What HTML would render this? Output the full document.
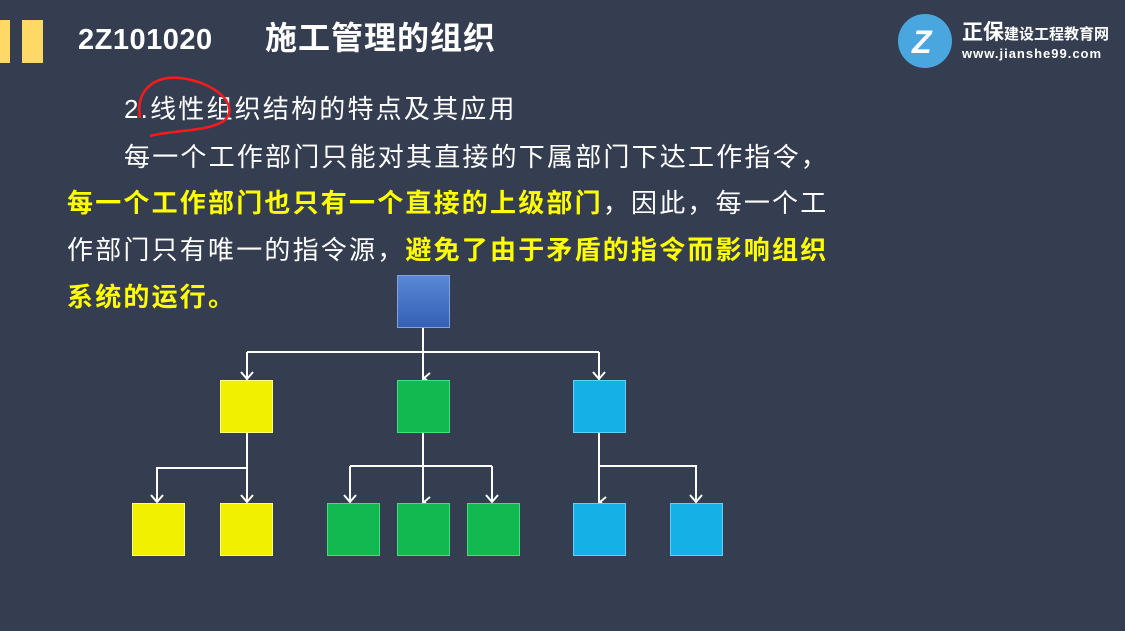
<!DOCTYPE html>
<html><head><meta charset="utf-8"><style>
html,body{margin:0;padding:0}
body{width:1125px;height:631px;background:#353e50;position:relative;overflow:hidden;font-family:"Liberation Sans","Noto Sans CJK SC",sans-serif;color:#fff}
.t{position:absolute;white-space:nowrap;font-size:26px;letter-spacing:2.2px;line-height:30px}
.y{color:#ffff00;font-weight:bold}
.b{position:absolute;width:53px;height:53px;box-sizing:border-box}
</style></head><body>
<div style="position:absolute;left:0;top:20px;width:10px;height:43px;background:#ffd966"></div>
<div style="position:absolute;left:22px;top:20px;width:21px;height:43px;background:#ffd966"></div>
<div class="t" style="left:78px;top:25px;font-size:29px;font-weight:bold;letter-spacing:0.5px">2Z101020</div>
<div class="t" style="left:265px;top:23px;font-size:32px;font-weight:bold;letter-spacing:1px">施工管理的组织</div>
<!-- logo -->
<div style="position:absolute;left:898px;top:14px;width:54px;height:54px;border-radius:50%;background:#4aa6de"></div>
<div style="position:absolute;left:912px;top:28px;font-size:32px;font-weight:bold;color:#fff;font-style:italic;line-height:28px">Z</div>
<div style="position:absolute;left:962px;top:16px;font-size:21px;font-weight:bold;color:#fff;white-space:nowrap">正保<span style="font-size:15px">建设工程教育网</span></div>
<div style="position:absolute;left:962px;top:46px;font-size:13px;font-weight:bold;color:#fff;white-space:nowrap;letter-spacing:1px">www.jianshe99.com</div>

<div class="t" style="left:124px;top:94px">2.线性组织结构的特点及其应用</div>
<svg style="position:absolute;left:130px;top:70px" width="110" height="70"><path d="M10 48 C5 20,25 5,50 8 C85 12,110 35,95 50 C80 62,40 60,20 66" fill="none" stroke="#ff1a1a" stroke-width="2.5"/></svg>
<div class="t" style="left:124px;top:142px">每一个工作部门只能对其直接的下属部门下达工作指令，</div>
<div class="t" style="left:67px;top:188px"><span class="y">每一个工作部门也只有一个直接的上级部门</span>，因此，每一个工</div>
<div class="t" style="left:67px;top:235px">作部门只有唯一的指令源，<span class="y">避免了由于矛盾的指令而影响组织</span></div>
<div class="t y" style="left:67px;top:282px">系统的运行。</div>

<svg style="position:absolute;left:0;top:0" width="1125" height="631">
<g stroke="#fff" stroke-width="2" fill="none">
<path d="M423 328V380M247 352H599M247 352V379M599 352V379"/>
<path d="M247 433V468H157V502M247 468V502"/>
<path d="M423 433V503M350 466H492M350 466V502M492 466V502"/>
<path d="M599 433V503M599 466H696V502"/>
<path d="M241 372L247 379L253 372M593 372L599 379L605 372M151 495L157 502L163 495M241 495L247 502L253 495M344 495L350 502L356 495M486 495L492 502L498 495M690 495L696 502L702 495M430 373L424 378L430 383M430 497L424 502L430 507M606 497L600 502L606 507"/>
</g>
</svg>
<div class="b" style="left:397px;top:275px;background:linear-gradient(#5a87d6,#3560b5);border:1px solid #7fa2e0"></div>
<div class="b" style="left:220px;top:380px;background:#f0f000;border:1px solid #ffff80"></div>
<div class="b" style="left:397px;top:380px;background:#12b850;border:1px solid #40e080"></div>
<div class="b" style="left:573px;top:380px;background:#14b0e6;border:1px solid #60d0ff"></div>
<div class="b" style="left:132px;top:503px;background:#f0f000;border:1px solid #ffff80"></div>
<div class="b" style="left:220px;top:503px;background:#f0f000;border:1px solid #ffff80"></div>
<div class="b" style="left:327px;top:503px;background:#12b850;border:1px solid #40e080"></div>
<div class="b" style="left:397px;top:503px;background:#12b850;border:1px solid #40e080"></div>
<div class="b" style="left:467px;top:503px;background:#12b850;border:1px solid #40e080"></div>
<div class="b" style="left:573px;top:503px;background:#14b0e6;border:1px solid #60d0ff"></div>
<div class="b" style="left:670px;top:503px;background:#14b0e6;border:1px solid #60d0ff"></div>
</body></html>
